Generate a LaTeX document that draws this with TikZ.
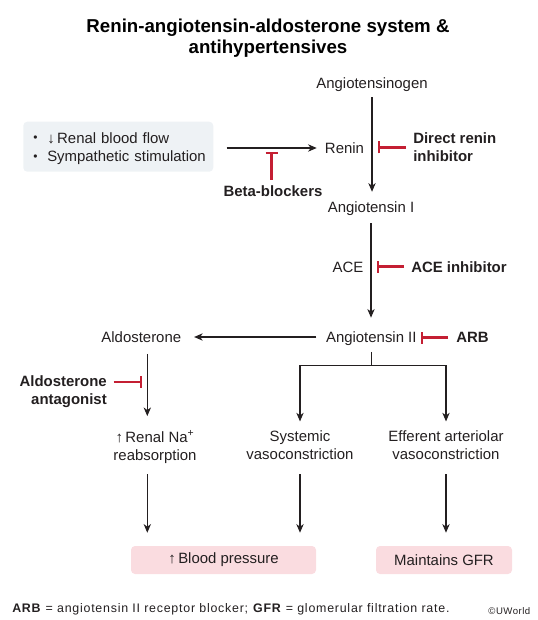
\documentclass[tikz,border=0pt]{standalone}
\usepackage{fontspec}
\setmainfont{Liberation Sans}
\usetikzlibrary{arrows.meta,calc}
\definecolor{inhred}{HTML}{C41F33}
\definecolor{boxgray}{HTML}{EEF2F5}
\definecolor{boxpink}{HTML}{FADCE0}
\definecolor{ink}{HTML}{231F20}
\newcommand{\smbul}{\makebox[10.5pt][l]{\raisebox{1.2pt}{\fontsize{9}{9}\selectfont\textbullet}}}
\begin{document}
\begin{tikzpicture}[x=0.75pt,y=-0.75pt,
  lbl/.style={font=\fontsize{11.2}{13.5}\selectfont, inner sep=0pt, text height=8pt, text depth=0pt, text=ink},
  lbltwo/.style={font=\fontsize{11.2}{13.5}\selectfont, inner sep=0pt, align=center, text=ink},
  bl/.style={font=\fontsize{11.2}{13.5}\selectfont\bfseries, inner sep=0pt, text height=8pt, text depth=0pt, text=ink},
  bltwo/.style={font=\fontsize{11.2}{13.5}\selectfont\bfseries, inner sep=0pt, text=ink},
  arr/.style={draw=ink, line width=0.8pt, -{Stealth[length=6.5pt,width=5.5pt,inset=2pt]}},
  ln/.style={draw=ink, line width=0.8pt},
  inh/.style={draw=inhred, line width=1.6pt, -{Bar[width=9pt]}},
  pinkbox/.style={fill=boxpink, rounded corners=3pt, minimum height=21pt, inner sep=0pt, font=\fontsize{11.2}{13.5}\selectfont, text=ink},
]
\useasboundingbox (0,0) rectangle (537,620);

% title
\node[font=\fontsize{14}{15.75}\selectfont\bfseries, align=center, inner sep=0pt] (title) at (268,38.5)
  {Renin-angiotensin-aldosterone system \&\\antihypertensives};

% main chain
\node[lbl] (agt) at (372,83) {Angiotensinogen};
\node[lbl] (ren) at (344.5,148) {Renin};
\node[lbl] (a1) at (371,206.7) {Angiotensin I};
\node[lbl] (ace) at (348,267.5) {ACE};
\node[lbl] (a2) at (371.3,337) {Angiotensin II};
\node[lbl] (ald) at (141.3,337) {Aldosterone};

% source box
\node[fill=boxgray, rounded corners=3pt, anchor=west, minimum width=142.5pt, minimum height=37.5pt, inner sep=0pt] (src) at (23,146.7) {};
\node[anchor=west, text width=127.5pt, inner sep=0pt, align=left, font=\fontsize{11.2}{13.8}\selectfont, text=ink] (srctxt) at (33,148.6)
  {\smbul\mbox{↓\,Renal blood flow}\\\smbul\mbox{Sympathetic stimulation}};

% effects
\node[lbltwo] (na) at (155,447) {↑\,Renal Na\textsuperscript{+}\\reabsorption};
\node[lbltwo] (sys) at (300,445.5) {Systemic\\vasoconstriction};
\node[lbltwo] (eff) at (446,445.5) {Efferent arteriolar\\vasoconstriction};

% outcomes
\node[pinkbox, minimum width=138.75pt] (bp) at (223.5,560) {↑\,Blood pressure};
\node[pinkbox, minimum width=102pt] (gfr) at (444,560) {Maintains GFR};

% drugs
\node[bltwo, anchor=west, align=left] (dri) at (413,147) {Direct renin\\inhibitor};
\node[bl] (bb) at (273,191) {Beta-blockers};
\node[bl, anchor=west] (acei) at (411,267) {ACE inhibitor};
\node[bl, anchor=west] (arb) at (456,337.5) {ARB};
\node[bltwo, anchor=east, align=right] (aa) at (107,391.4) {Aldosterone\\antagonist};

% inhibition targets
\coordinate (bbT) at (271.5,152);
\coordinate (driT) at (377.5,147.5);
\coordinate (aceT) at (376.5,266.5);
\coordinate (arbT) at (421,337.5);
\coordinate (aaT) at (142,382);

% main arrows
\draw[arr, shorten <=6.5pt, shorten >=7pt] (agt.south) -- (agt.south |- a1.north);
\draw[arr, shorten <=8.25pt, shorten >=10.3pt] (a1.south) -- (a1.south |- a2.north);
\draw[arr, shorten <=9.75pt, shorten >=6pt] (src.east |- ren.west) -- (ren.west);
\draw[arr, shorten <=7pt, shorten >=9.5pt] (a2.west) -- (a2.west -| ald.east);

% aldosterone branch
\coordinate (aldD) at ($(ald.south)+(6,0)$);
\draw[arr, shorten <=8.4pt, shorten >=10.8pt] (aldD) -- (aldD |- na.north);
\draw[arr, shorten <=8.2pt, shorten >=9.75pt] (aldD |- na.south) -- (aldD |- bp.north);

% angiotensin II branches
\coordinate (brJ) at ($(a2.south)+(0,22.7)$);
\draw[ln, shorten <=7pt] (a2.south) -- (brJ);
\draw[arr, shorten >=7pt] (brJ) -| (sys.north);
\draw[arr, shorten >=7pt] (brJ) -| (eff.north);
\draw[arr, shorten <=10.5pt, shorten >=9.75pt] (sys.south) -- (sys.south |- bp.north);
\draw[arr, shorten <=10.5pt, shorten >=9.75pt] (eff.south) -- (eff.south |- gfr.north);

% inhibitions
\draw[inh, shorten <=4.3pt] (bbT |- bb.north) -- (bbT);
\draw[inh, shorten <=5.25pt] (dri.west |- driT) -- (driT);
\draw[inh, shorten <=5.25pt] (acei.west |- aceT) -- (aceT);
\draw[inh, shorten <=6pt] (arb.west |- arbT) -- (arbT);
\draw[inh, shorten <=4.9pt] (aa.east |- aaT) -- (aaT);

% footer
\node[anchor=base west, inner sep=0pt, font=\fontsize{9.3}{11}\selectfont\addfontfeature{LetterSpace=6.2}, text=ink] (foot) at (12,612.5)
  {\textbf{ARB} = angiotensin II receptor blocker; \textbf{GFR} = glomerular filtration rate.};
\node[anchor=base east, inner sep=0pt, font=\fontsize{7.2}{8}\selectfont\addfontfeature{LetterSpace=5}, text=ink] (copy) at (530.5,614) {©UWorld};
\end{tikzpicture}
\end{document}
